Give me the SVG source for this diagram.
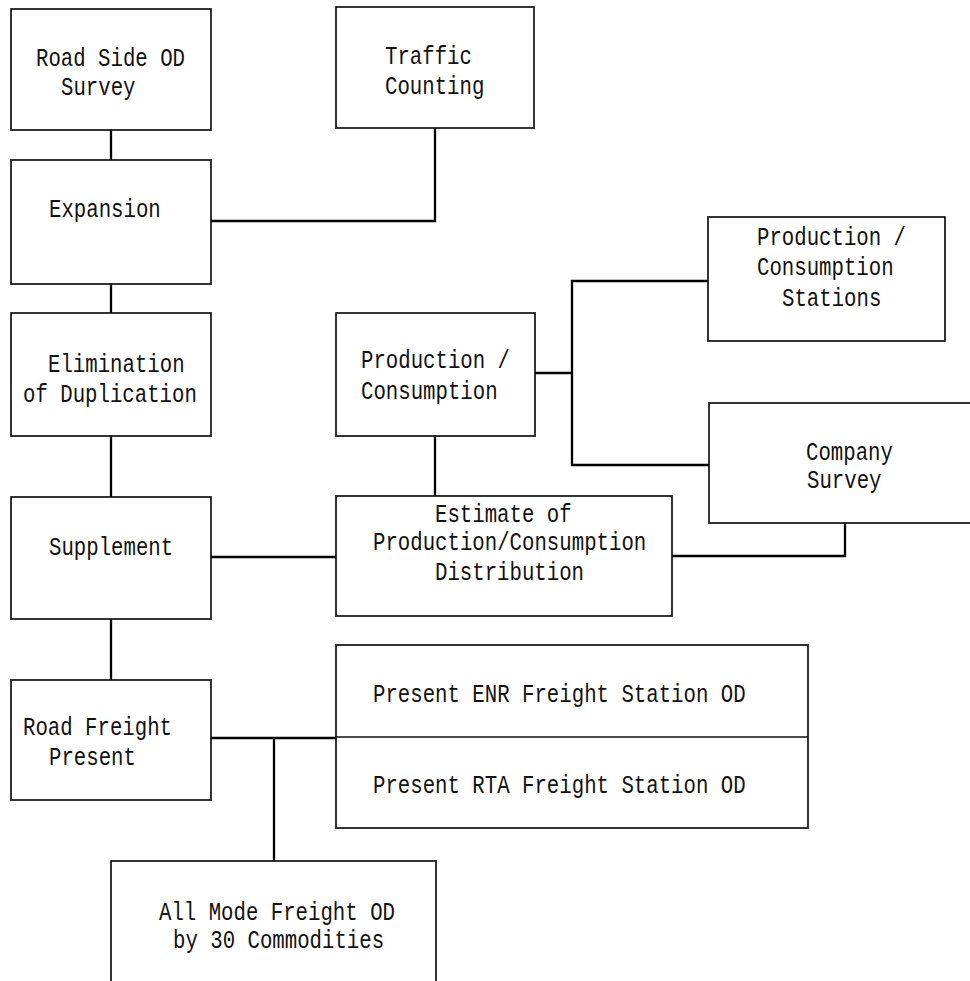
<svg xmlns="http://www.w3.org/2000/svg" width="970" height="981" viewBox="0 0 970 981">
<style>
  .box { fill: #ffffff; stroke: #111111; stroke-width: 1.7; }
  .div { stroke: #111111; stroke-width: 1.7; fill: none; }
  .conn { fill: none; stroke: #000000; stroke-width: 2.3; }
  text { font-family: "Liberation Mono", "DejaVu Sans Mono", monospace; font-size: 20.7px; fill: #111111; }
</style>
<rect width="970" height="981" fill="#ffffff"/>
<g id="connectors">
  <path class="conn" d="M111,130 V160"/>
  <path class="conn" d="M211,221 H435 V128"/>
  <path class="conn" d="M111,284 V313"/>
  <path class="conn" d="M111,436 V497"/>
  <path class="conn" d="M111,619 V680"/>
  <path class="conn" d="M211,557 H336"/>
  <path class="conn" d="M435,436 V496"/>
  <path class="conn" d="M535,373 H572"/>
  <path class="conn" d="M708,281 H572 V465 H709"/>
  <path class="conn" d="M672,556 H845 V523"/>
  <path class="conn" d="M211,738 H336"/>
  <path class="conn" d="M274,738 V861"/>
</g>
<g id="road_side_od_survey">
  <rect class="box" x="11" y="9" width="200" height="121"/>
  <text transform="translate(36,66) scale(1,1.2)">Road Side OD</text>
  <text transform="translate(61,95) scale(1,1.2)">Survey</text>
</g>
<g id="traffic_counting">
  <rect class="box" x="336" y="7" width="198" height="121"/>
  <text transform="translate(385,64) scale(1,1.2)">Traffic</text>
  <text transform="translate(385,94) scale(1,1.2)">Counting</text>
</g>
<g id="expansion">
  <rect class="box" x="11" y="160" width="200" height="124"/>
  <text transform="translate(49,217) scale(1,1.2)">Expansion</text>
</g>
<g id="elimination">
  <rect class="box" x="11" y="313" width="200" height="123"/>
  <text transform="translate(48,372) scale(1,1.2)">Elimination</text>
  <text transform="translate(23,402) scale(1,1.2)">of Duplication</text>
</g>
<g id="production_consumption">
  <rect class="box" x="336" y="313" width="199" height="123"/>
  <text transform="translate(361,368) scale(1,1.2)">Production /</text>
  <text transform="translate(361,399) scale(1,1.2)">Consumption</text>
</g>
<g id="pc_stations">
  <rect class="box" x="708" y="217" width="237" height="124"/>
  <text transform="translate(757,245) scale(1,1.2)">Production /</text>
  <text transform="translate(757,275) scale(1,1.2)">Consumption</text>
  <text transform="translate(782,306) scale(1,1.2)">Stations</text>
</g>
<g id="company_survey">
  <rect class="box" x="709" y="403" width="270" height="120"/>
  <text transform="translate(806,460) scale(1,1.2)">Company</text>
  <text transform="translate(807,488) scale(1,1.2)">Survey</text>
</g>
<g id="supplement">
  <rect class="box" x="11" y="497" width="200" height="122"/>
  <text transform="translate(49,555) scale(1,1.2)">Supplement</text>
</g>
<g id="estimate">
  <rect class="box" x="336" y="496" width="336" height="120"/>
  <text transform="translate(435,522) scale(1,1.2)">Estimate of</text>
  <text transform="translate(373,550) scale(1,1.2)">Production/Consumption</text>
  <text transform="translate(435,580) scale(1,1.2)">Distribution</text>
</g>
<g id="road_freight_present">
  <rect class="box" x="11" y="680" width="200" height="120"/>
  <text transform="translate(23,735) scale(1,1.2)">Road Freight</text>
  <text transform="translate(49,765) scale(1,1.2)">Present</text>
</g>
<g id="present_station_od">
  <rect class="box" x="336" y="645" width="472" height="183"/>
  <path class="div" d="M336,737 H808"/>
  <text transform="translate(373,702) scale(1,1.2)">Present ENR Freight Station OD</text>
  <text transform="translate(373,793) scale(1,1.2)">Present RTA Freight Station OD</text>
</g>
<g id="all_mode_freight_od">
  <rect class="box" x="111" y="861" width="325" height="140"/>
  <text transform="translate(159,920) scale(1,1.2)">All Mode Freight OD</text>
  <text transform="translate(173,948) scale(1,1.2)">by 30 Commodities</text>
</g>
</svg>
